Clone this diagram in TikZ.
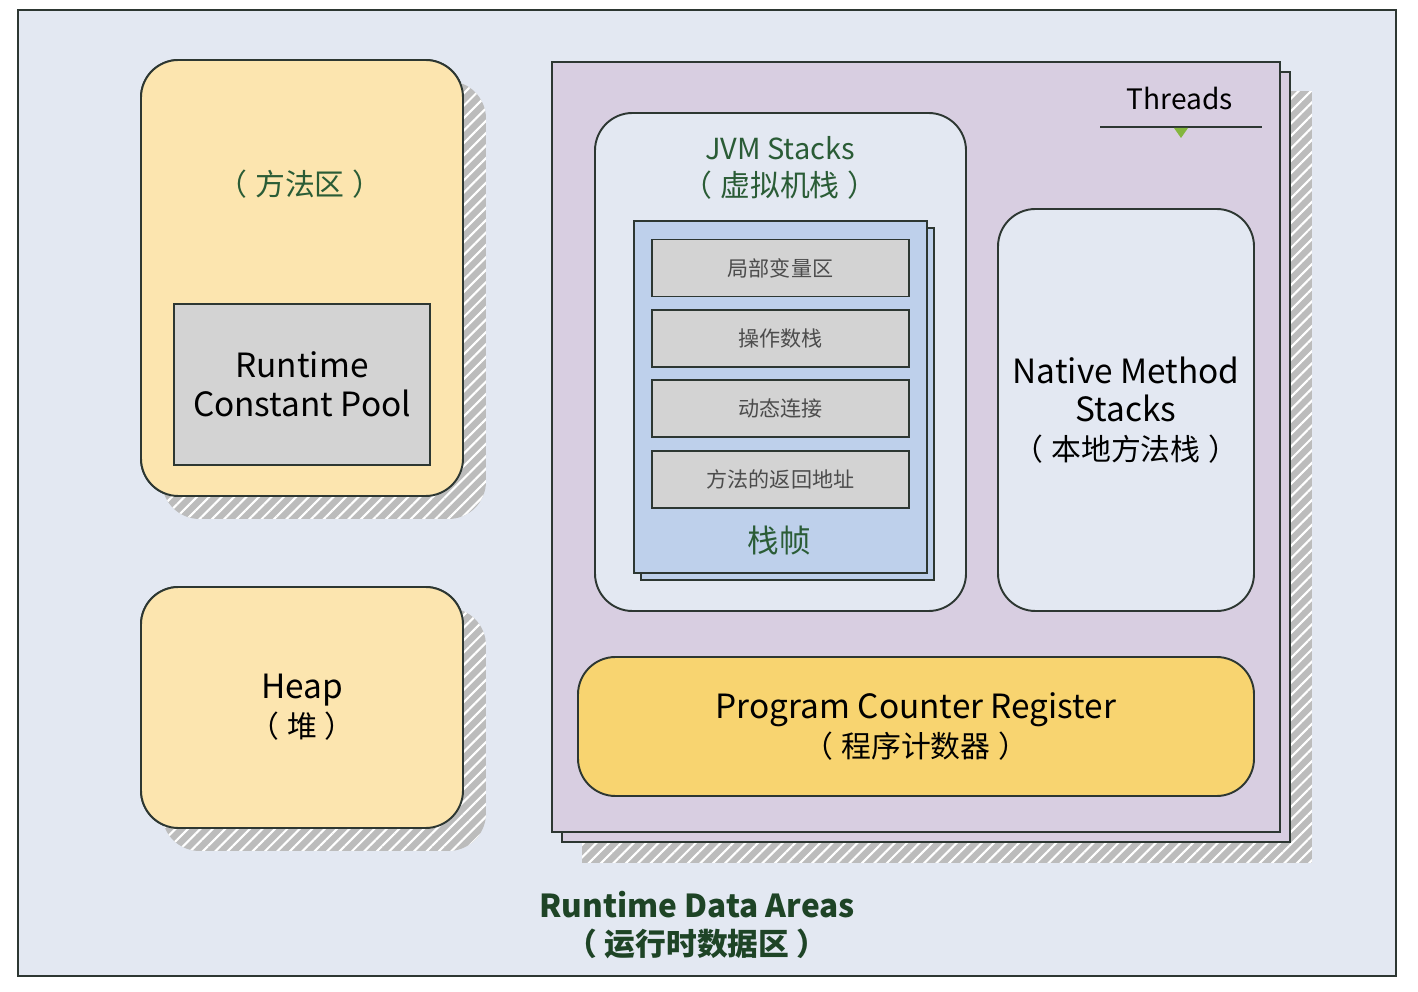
\documentclass[tikz,border=0pt]{standalone}
\usepackage{fontspec}
\setmainfont{Noto Sans CJK SC}
\usetikzlibrary{positioning,calc,patterns.meta}

\definecolor{bgblue}{RGB}{227,232,242}
\definecolor{edge}{RGB}{45,55,50}
\definecolor{methyellow}{RGB}{252,229,175}
\definecolor{pcyellow}{RGB}{248,212,112}
\definecolor{lilac}{RGB}{216,206,225}
\definecolor{framebl}{RGB}{190,208,235}
\definecolor{poolgray}{RGB}{211,211,211}
\definecolor{shadegray}{RGB}{188,188,188}
\definecolor{labgreen}{RGB}{42,92,54}
\definecolor{titlegreen}{RGB}{30,68,38}
\definecolor{arrowgreen}{RGB}{132,182,62}

\newcommand\latbig{\fontsize{19}{22}\selectfont}
\newcommand\cjkmid{\fontsize{17}{22}\selectfont}
\newcommand\cnparen[1]{（\hspace{0.25em}#1\hspace{0.25em}）}

\begin{document}
\begin{tikzpicture}[x=0.2mm,y=-0.2mm,
  area/.style={draw=edge,line width=1.1pt,rounded corners=7.5mm,inner sep=0pt},
  box/.style={draw=edge,line width=1.1pt,inner sep=0pt},
  slot/.style={box,fill=poolgray,minimum width=51.4mm,minimum height=11.4mm,font=\fontsize{12}{14}\selectfont,text=black!70},
  hatch/.style={fill=shadegray,postaction={pattern={Lines[angle=45,distance=5pt,line width=1.2pt]},pattern color=white}},
  lab/.style={align=center,inner sep=0pt}
]
\fill[white] (0,0) rectangle (1418,992);
\useasboundingbox (0,0) rectangle (1418,992);

% outer frame
\node[box,fill=bgblue,minimum width=275.6mm,minimum height=193.2mm] (frame) at (707,493) {};

% method area
\node[area,minimum width=64.4mm,minimum height=87.2mm] (ma) at (302,278) {};
\path[hatch,rounded corners=7.5mm] ($(ma.south west)+(22,22)$) rectangle ($(ma.north east)+(22,22)$);
\node[area,fill=methyellow,minimum width=64.4mm,minimum height=87.2mm] (ma) at (302,278) {};
\node[lab,font=\cjkmid,text=labgreen] (malab) at (300,184) {\cnparen{方法区}};
\node[box,fill=poolgray,minimum width=51.2mm,minimum height=32.2mm,align=center,font=\latbig] (pool) at (302,384.5) {Runtime\\Constant Pool};

% heap
\node[area,minimum width=64.4mm,minimum height=48.2mm] (heap) at (302,707.5) {};
\path[hatch,rounded corners=7.5mm] ($(heap.south west)+(22,22)$) rectangle ($(heap.north east)+(22,22)$);
\node[area,fill=methyellow,minimum width=64.4mm,minimum height=48.2mm,align=center,font=\latbig] (heap) at (302,707.5) {Heap\\\cjkmid\cnparen{堆}};

% threads
\node[box,minimum width=145.6mm,minimum height=154mm] (thr) at (916,447) {};
\path[hatch] ($(thr.south west)+(31,30)$) rectangle ($(thr.north east)+(31,30)$);
\node[box,fill=lilac,minimum width=145.6mm,minimum height=154mm] (thrb) at (926,457) {};
\node[box,fill=lilac,minimum width=145.6mm,minimum height=154mm] (thr) at (916,447) {};
\node[lab,font=\fontsize{16}{20}\selectfont] (thrlab) at (1180,98) {Threads};
\coordinate (tl) at (1100,127);
\coordinate (tr) at (1262,127);
\draw[edge,line width=1.1pt] (tl) -- (tr);
\fill[arrowgreen] (1174,128) -- (1188,128) -- (1181,138) -- cycle;

% jvm stacks
\node[area,fill=bgblue,minimum width=74.2mm,minimum height=99.6mm] (jvm) at (780.5,362) {};
\node[lab,text=labgreen,font=\fontsize{16.5}{21}\selectfont] (jvmlab) at (780,168) {JVM Stacks\\\cjkmid\cnparen{虚拟机栈}};
\node[box,fill=framebl,minimum width=58.6mm,minimum height=70.4mm] (frb) at (787.5,404) {};
\node[box,fill=framebl,minimum width=58.6mm,minimum height=70.4mm] (fr) at (780.5,397) {};
\node[slot] (s1) at (780.5,268) {局部变量区};
\node[slot,below=2.3mm of s1] (s2) {操作数栈};
\node[slot,below=2.3mm of s2] (s3) {动态连接};
\node[slot,below=2.3mm of s3] (s4) {方法的返回地址};
\node[lab,text=labgreen,font=\fontsize{18}{22}\selectfont] (frlab) at (779,541) {栈帧};

% native method stacks
\node[area,fill=bgblue,minimum width=51.2mm,minimum height=80.4mm,align=center,font=\latbig] (nms) at (1126,410) {Native Method\\Stacks\\\cjkmid\cnparen{本地方法栈}};

% pc register
\node[area,fill=pcyellow,minimum width=135.2mm,minimum height=27.8mm,align=center,font=\latbig] (pc) at (916,726.5) {Program Counter Register\\\cjkmid\cnparen{程序计数器}};

% title
\node[lab,text=titlegreen,font=\bfseries\fontsize{18}{22}\selectfont] (title) at (697,925) {Runtime Data Areas\\\fontsize{17.5}{22}\selectfont\cnparen{运行时数据区}};
\end{tikzpicture}
\end{document}
